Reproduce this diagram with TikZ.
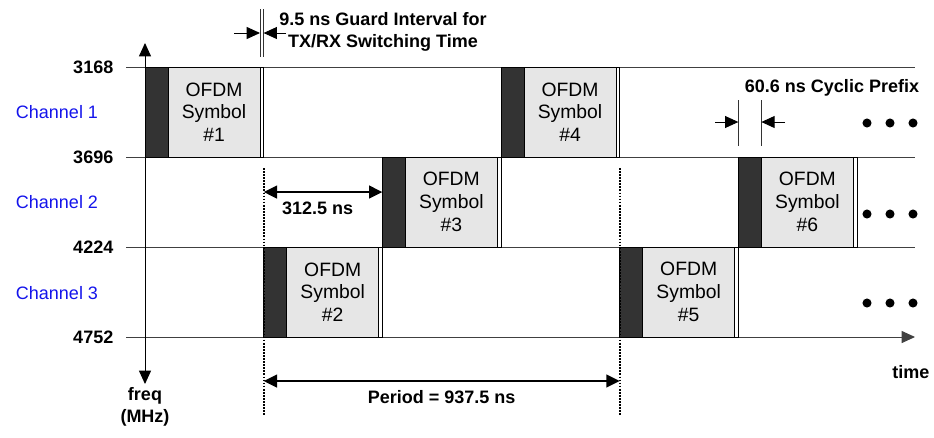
\documentclass[tikz,border=0pt]{standalone}
\usepackage{fontspec}
\setmainfont{Liberation Sans}
\usetikzlibrary{arrows.meta,positioning}
\definecolor{cpdark}{RGB}{51,51,51}
\definecolor{symgray}{RGB}{230,230,230}
\definecolor{chblue}{RGB}{20,20,235}

\begin{document}
\begin{tikzpicture}[x=0.75pt,y=-0.75pt,>={Triangle[length=10pt,width=9pt]},
    font=\fontsize{14.5}{17}\selectfont,every node/.style={align=center},
    cpbox/.style={draw,fill=cpdark,inner sep=0pt,outer sep=0pt,minimum width=17.25pt,minimum height=67.5pt},
    symbox/.style={draw,fill=symgray,inner sep=0pt,outer sep=0pt,minimum width=69pt,minimum height=67.5pt},
    guardbox/.style={draw,fill=white,inner sep=0pt,outer sep=0pt,minimum width=2.7pt,minimum height=67.5pt},
    freqlabel/.style={anchor=east,font=\fontsize{13.5}{16}\selectfont\bfseries},
    chlabel/.style={text=chblue,font=\fontsize{13.5}{16}\selectfont},
    annot/.style={font=\fontsize{13.5}{17}\selectfont\bfseries},
    gridline/.style={black!75,line width=0.7pt},
    marker/.style={black!80,line width=0.6pt},
    span/.style={<->,line width=1.6pt,>={Triangle[length=10pt,width=9.5pt]}},
    periodline/.style={densely dotted,line width=1.3pt}]
  \useasboundingbox (0,0) rectangle (934,437);

  % frequency grid
  \foreach \f/\y [count=\i] in {3168/67,3696/157,4224/247,4752/337}{
    \node[freqlabel] (f\i) at (118,\y) {\f};
    \coordinate (g\i) at (915,\y);
  }
  \draw[gridline] (f1.east)++(6pt,0) -- (g1);
  \draw[gridline] (f2.east)++(6pt,0) -- (g2);
  \draw[gridline] (f3.east)++(6pt,0) -- (g3);
  \draw[gridline,->] (f4.east)++(6pt,0) -- (g4);
  \node[annot,anchor=east] (time) at (934,372) {time};

  \node[chlabel] (ch1) at (57,112) {Channel 1};
  \node[chlabel] (ch2) at (57,202) {Channel 2};
  \node[chlabel] (ch3) at (57,293) {Channel 3};

  % frequency axis
  \coordinate (ftop) at (145,43);
  \coordinate (fbot) at (145,384);
  \draw[<->,line width=0.7pt] (ftop) -- (fbot);
  \node[annot] (freq) at (145,407) {freq\\(MHz)};

  % OFDM symbols: cyclic prefix, data, guard interval
  \foreach \k/\c in {1/1,2/3,3/2,4/1,5/3,6/2}{
    \node[cpbox,anchor=north west] (cp\k) at ({145+(\k-1)*118.67},{67+(\c-1)*90}) {};
    \node[symbox,right=0pt of cp\k] (sym\k) {OFDM\\Symbol\\\#\k};
    \node[guardbox,right=0pt of sym\k] (gi\k) {};
  }

  % more symbols
  \foreach \y in {123,214,303}
    \foreach \x in {867,890,913}
      \fill (\x,\y) circle (3.4pt);

  % period markers
  \coordinate (pa) at (cp2.north west |- 0,168);
  \coordinate (pb) at (cp2.north west |- 0,416);
  \coordinate (pc) at (cp5.north west |- 0,168);
  \coordinate (pd) at (cp5.north west |- 0,416);
  \draw[periodline] (pa) -- (pb);
  \draw[periodline] (pc) -- (pd);
  \draw[span] (cp2.north west |- 0,381) -- node[annot,below=3pt] (period) {Period = 937.5 ns} (cp5.north west |- 0,381);
  \draw[span] (cp2.north west |- 0,192) -- node[annot,below=3pt,xshift=-4pt] (slot) {312.5 ns} (cp3.west |- 0,192);

  % guard interval annotation
  \coordinate (ga) at (sym1.north east |- 0,9);
  \coordinate (gb) at (gi1.north east |- 0,9);
  \draw[marker] (ga) -- (sym1.north east |- 0,57);
  \draw[marker] (gb) -- (gi1.north east |- 0,57);
  \coordinate (gl) at (234,33);
  \coordinate (gr) at (286,33);
  \draw[->,line width=0.7pt] (gl) -- (ga |- gl);
  \draw[->,line width=0.7pt] (gr) -- (gb |- gr);
  \node[annot] (guard) at (383,32) {9.5 ns Guard Interval for\\TX/RX Switching Time};

  % cyclic prefix annotation
  \coordinate (ca) at (cp6.north west |- 0,100);
  \coordinate (cb) at (cp6.north east |- 0,100);
  \draw[marker] (ca) -- (cp6.north west |- 0,146);
  \draw[marker] (cb) -- (cp6.north east |- 0,146);
  \coordinate (cl) at (715,122);
  \coordinate (cr) at (785,122);
  \draw[->,line width=0.7pt] (cl) -- (ca |- cl);
  \draw[->,line width=0.7pt] (cr) -- (cb |- cr);
  \node[annot] (cyclic) at (832,88) {60.6 ns Cyclic Prefix};
\end{tikzpicture}
\end{document}
